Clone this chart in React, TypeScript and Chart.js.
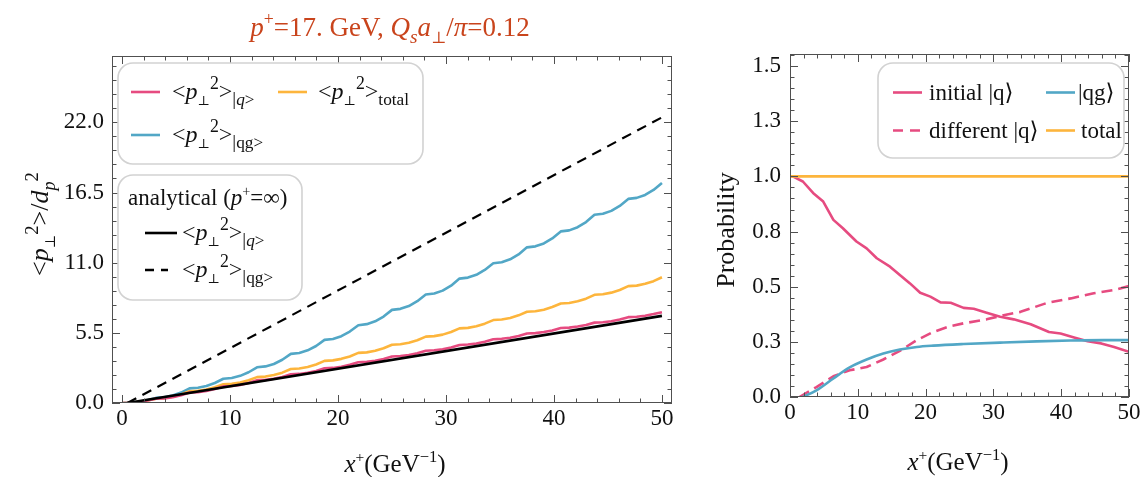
import React, { useEffect, useRef } from 'react';
import { Chart, registerables } from 'chart.js';
Chart.register(...registerables);

const SERIF = '"Liberation Serif", "DejaVu Serif", "Times New Roman", serif';
const PINK = '#E64B80';
const BLUE = '#52A7C6';
const ORANGE = '#FDB53C';
const BLACK = '#000000';
const TITLE_COLOR = '#C9441C';
const FRAME = '#505050';
const TEXT = '#111111';

// ---------------- left panel data ----------------
const xPositions = [
  0, 0.78, 1.56, 2.34, 3.13, 3.91, 4.69, 5.47, 6.25, 7.03, 7.81, 8.59, 9.38, 10.16, 10.94, 11.72,
  12.5, 13.28, 14.06, 14.84, 15.63, 16.41, 17.19, 17.97, 18.75, 19.53, 20.31, 21.09, 21.88, 22.66, 23.44, 24.22,
  25, 25.78, 26.56, 27.34, 28.13, 28.91, 29.69, 30.47, 31.25, 32.03, 32.81, 33.59, 34.38, 35.16, 35.94, 36.72,
  37.5, 38.28, 39.06, 39.84, 40.63, 41.41, 42.19, 42.97, 43.75, 44.53, 45.31, 46.09, 46.88, 47.66, 48.44, 49.22,
  50,
];
const pSqQ = [
  0, 0.02, 0.08, 0.19, 0.33, 0.36, 0.45, 0.61, 0.82, 0.85, 0.94, 1.09, 1.3, 1.33, 1.42, 1.57,
  1.78, 1.81, 1.9, 2.04, 2.25, 2.28, 2.37, 2.51, 2.72, 2.75, 2.84, 2.99, 3.2, 3.23, 3.31, 3.45,
  3.65, 3.68, 3.76, 3.9, 4.1, 4.13, 4.21, 4.35, 4.55, 4.58, 4.66, 4.8, 5.0, 5.03, 5.11, 5.25,
  5.45, 5.48, 5.56, 5.69, 5.88, 5.91, 5.99, 6.12, 6.3, 6.33, 6.41, 6.54, 6.73, 6.76, 6.84, 6.97,
  7.12,
];
const pSqTotal = [
  0, 0.02, 0.09, 0.19, 0.34, 0.38, 0.49, 0.67, 0.92, 0.95, 1.06, 1.23, 1.47, 1.51, 1.61, 1.79,
  2.03, 2.07, 2.19, 2.38, 2.66, 2.7, 2.82, 3.02, 3.3, 3.34, 3.46, 3.65, 3.93, 3.97, 4.09, 4.29,
  4.57, 4.61, 4.73, 4.92, 5.2, 5.24, 5.36, 5.57, 5.85, 5.89, 6.01, 6.22, 6.5, 6.54, 6.66, 6.87,
  7.15, 7.19, 7.31, 7.52, 7.8, 7.84, 7.97, 8.18, 8.48, 8.52, 8.65, 8.86, 9.16, 9.2, 9.34, 9.55,
  9.86,
];
const pSqQG = [
  0, 0.03, 0.1, 0.22, 0.4, 0.45, 0.59, 0.82, 1.15, 1.2, 1.34, 1.57, 1.9, 1.96, 2.13, 2.41,
  2.8, 2.87, 3.06, 3.39, 3.85, 3.92, 4.13, 4.47, 4.95, 5.02, 5.24, 5.6, 6.1, 6.18, 6.4, 6.78,
  7.3, 7.38, 7.6, 7.98, 8.5, 8.58, 8.81, 9.2, 9.75, 9.83, 10.05, 10.43, 10.95, 11.03, 11.26, 11.65,
  12.2, 12.28, 12.51, 12.9, 13.45, 13.53, 13.78, 14.18, 14.75, 14.83, 15.06, 15.45, 16.0, 16.08, 16.31, 16.7,
  17.25,
];
const analyticX = [0.5, 50];
const analyticQ = [0, 6.83];
const analyticQG = [0, 22.39];

const leftXTicks = [0, 10, 20, 30, 40, 50];
const leftXTickLabels = ['0', '10', '20', '30', '40', '50'];
const leftYTicks = [0, 5.5, 11, 16.5, 22];
const leftYTickLabels = ['0.0', '5.5', '11.0', '16.5', '22.0'];

// ---------------- right panel data ----------------
const initialQX = [0, 0.4, 1.9, 3.4, 4.9, 6.4, 7.8, 9.8, 11.3, 12.8, 14.75, 16.2, 17.7, 19.2, 20.7, 22.2, 23.7, 25.6, 27.1, 29.0, 31.0, 33.0, 35.5, 38.2, 39.9, 41.9, 43.9, 45.9, 47.8, 50];
const initialQ = [1.0, 1.0, 0.977, 0.925, 0.886, 0.803, 0.765, 0.705, 0.674, 0.629, 0.591, 0.553, 0.515, 0.473, 0.455, 0.429, 0.427, 0.404, 0.4, 0.382, 0.364, 0.352, 0.33, 0.295, 0.288, 0.27, 0.253, 0.243, 0.227, 0.205];
const differentQX = [1.4, 3.9, 6.4, 8.8, 11.3, 13.76, 16.2, 18.7, 21.15, 23.6, 25.6, 29.0, 31.5, 34.0, 37.95, 41.4, 44.8, 47.8, 50];
const differentQ = [0, 0.045, 0.094, 0.121, 0.136, 0.17, 0.209, 0.258, 0.295, 0.321, 0.334, 0.352, 0.371, 0.386, 0.427, 0.447, 0.47, 0.485, 0.503];
const qgX = [1.9, 3.9, 6.4, 8.8, 11.3, 13.76, 16.2, 18.7, 21.15, 25.6, 31.5, 36.4, 41.4, 46.3, 50];
const qgProb = [0, 0.03, 0.084, 0.134, 0.17, 0.197, 0.215, 0.227, 0.233, 0.24, 0.247, 0.252, 0.256, 0.258, 0.258];
const totalX = [0, 50];
const totalProb = [1, 1];

const rightXTicks = [0, 10, 20, 30, 40, 50];
const rightXTickLabels = ['0', '10', '20', '30', '40', '50'];
const rightYTicks = [0, 0.25, 0.5, 0.75, 1.0, 1.25, 1.5];
const rightYTickLabels = ['0.0', '0.3', '0.5', '0.8', '1.0', '1.3', '1.5'];

// ---------------- rich text helpers ----------------
type Run = { t: string; i?: boolean; sub?: boolean; sup?: boolean; s?: number };

function fontFor(r: Run, size: number) {
  const sc = r.s ?? (r.sub || r.sup ? 0.7 : 1);
  return `${r.i ? 'italic ' : ''}${(size * sc).toFixed(1)}px ${SERIF}`;
}
function richWidth(ctx: CanvasRenderingContext2D, runs: Run[], size: number) {
  let w = 0;
  for (const r of runs) {
    ctx.font = fontFor(r, size);
    w += ctx.measureText(r.t).width;
  }
  return w;
}
function drawRich(ctx: CanvasRenderingContext2D, runs: Run[], x: number, y: number, size: number, align: 'left' | 'center' = 'left', color = TEXT) {
  const w = richWidth(ctx, runs, size);
  let cx = align === 'center' ? x - w / 2 : x;
  ctx.save();
  ctx.fillStyle = color;
  ctx.textAlign = 'left';
  ctx.textBaseline = 'alphabetic';
  for (const r of runs) {
    ctx.font = fontFor(r, size);
    const dy = r.sub ? size * 0.26 : r.sup ? -size * 0.4 : 0;
    ctx.fillText(r.t, cx, y + dy);
    cx += ctx.measureText(r.t).width;
  }
  ctx.restore();
}

const pPerpSq = (): Run[] => [
  { t: '<' }, { t: 'p', i: true }, { t: '⊥', sub: true, s: 0.55 }, { t: '2', sup: true, s: 0.74 }, { t: '>' },
];
const runsQ: Run[] = [...pPerpSq(), { t: '|', sub: true, s: 0.8 }, { t: 'q', i: true, sub: true, s: 0.72 }, { t: '>', sub: true, s: 0.72 }];
const runsQG: Run[] = [...pPerpSq(), { t: '|', sub: true, s: 0.8 }, { t: 'qg', sub: true, s: 0.72 }, { t: '>', sub: true, s: 0.72 }];
const runsTotal: Run[] = [...pPerpSq(), { t: 'total', sub: true, s: 0.72 }];
const runsAnalytical: Run[] = [{ t: 'analytical (' }, { t: 'p', i: true }, { t: '+', sup: true, s: 0.62 }, { t: '=∞)' }];
const runsTitle: Run[] = [
  { t: 'p', i: true }, { t: '+', sup: true, s: 0.66 }, { t: '=17. GeV, ' }, { t: 'Q', i: true }, { t: 's', i: true, sub: true, s: 0.72 },
  { t: 'a', i: true }, { t: '⊥', sub: true, s: 0.6 }, { t: '/' }, { t: 'π', i: true }, { t: '=0.12' },
];
const runsLeftY: Run[] = [
  { t: '<' }, { t: 'p', i: true }, { t: '⊥', sub: true, s: 0.55 }, { t: '2', sup: true, s: 0.72 }, { t: '>/' },
  { t: 'd', i: true }, { t: 'p', i: true, sub: true, s: 0.7 }, { t: '2', sup: true, s: 0.72 },
];
const runsX: Run[] = [{ t: 'x', i: true }, { t: '+', sup: true, s: 0.62 }, { t: '(GeV' }, { t: '−1', sup: true, s: 0.66 }, { t: ')' }];

function legendLine(ctx: CanvasRenderingContext2D, x1: number, x2: number, y: number, color: string, dash: number[] = [], width = 2.6) {
  ctx.save();
  ctx.strokeStyle = color;
  ctx.lineWidth = width;
  ctx.setLineDash(dash);
  ctx.beginPath();
  ctx.moveTo(x1, y);
  ctx.lineTo(x2, y);
  ctx.stroke();
  ctx.restore();
}
function legendBox(ctx: CanvasRenderingContext2D, x: number, y: number, w: number, h: number) {
  ctx.save();
  ctx.beginPath();
  ctx.roundRect(x, y, w, h, 15);
  ctx.fillStyle = '#ffffff';
  ctx.fill();
  ctx.strokeStyle = '#d2d2d2';
  ctx.lineWidth = 1.6;
  ctx.stroke();
  ctx.restore();
}

function drawFrame(chart: any, xMajor: number[], xMinor: number[], yMajor: number[], yMinor: number[]) {
  const ctx: CanvasRenderingContext2D = chart.ctx;
  const a = chart.chartArea;
  const xs = chart.scales.x;
  const ys = chart.scales.y;
  ctx.save();
  ctx.strokeStyle = FRAME;
  ctx.lineWidth = 1;
  ctx.strokeRect(Math.round(a.left) + 0.5, Math.round(a.top) + 0.5, Math.round(a.right - a.left) - 1, Math.round(a.bottom - a.top) - 1);
  ctx.beginPath();
  const tx = (v: number, len: number) => {
    const p = Math.round(xs.getPixelForValue(v)) + 0.5;
    ctx.moveTo(p, a.bottom); ctx.lineTo(p, a.bottom - len);
    ctx.moveTo(p, a.top); ctx.lineTo(p, a.top + len);
  };
  const ty = (v: number, len: number) => {
    const p = Math.round(ys.getPixelForValue(v)) + 0.5;
    ctx.moveTo(a.left, p); ctx.lineTo(a.left + len, p);
    ctx.moveTo(a.right, p); ctx.lineTo(a.right - len, p);
  };
  xMajor.forEach(v => tx(v, 8));
  xMinor.forEach(v => tx(v, 4.5));
  yMajor.forEach(v => ty(v, 8));
  yMinor.forEach(v => ty(v, 4.5));
  ctx.stroke();
  ctx.restore();
}

const toPts = (xs: number[], ys: number[]) => xs.map((x, i) => ({ x, y: ys[i] }));

function axisOpts(min: number, max: number, ticks: number[], labels: string[], padding: number, fit: (s: any) => void) {
  return {
    type: 'linear' as const,
    min,
    max,
    grid: { display: false, drawTicks: false },
    border: { display: false },
    afterBuildTicks: (s: any) => { s.ticks = ticks.map(v => ({ value: v })); },
    afterFit: fit,
    ticks: {
      padding,
      autoSkip: false,
      maxRotation: 0,
      color: TEXT,
      font: { family: SERIF, size: 23 },
      callback: (_v: any, i: number) => labels[i],
    },
  };
}

function leftConfig(): any {
  const xMinor: number[] = [];
  for (let v = 2; v < 50; v += 2) if (v % 10 !== 0) xMinor.push(v);
  const yMinor: number[] = [];
  for (let k = 1; k <= 24; k++) if (k % 5 !== 0) yMinor.push(k * 1.1);
  return {
    type: 'line',
    data: {
      datasets: [
        { data: toPts(analyticX, analyticQ), borderColor: BLACK, borderWidth: 2.6 },
        { data: toPts(analyticX, analyticQG), borderColor: BLACK, borderWidth: 2.2, borderDash: [10, 7] },
        { data: toPts(xPositions, pSqQ), borderColor: PINK },
        { data: toPts(xPositions, pSqTotal), borderColor: ORANGE },
        { data: toPts(xPositions, pSqQG), borderColor: BLUE },
      ],
    },
    options: {
      responsive: false,
      animation: false,
      devicePixelRatio: 1,
      layout: { padding: { left: 0, top: 56, right: 28, bottom: 0 } },
      plugins: { legend: { display: false }, tooltip: { enabled: false }, title: { display: false } },
      elements: { point: { radius: 0 }, line: { tension: 0, borderWidth: 2.6, fill: false, borderJoinStyle: 'round' } },
      scales: {
        x: axisOpts(-0.93, 50.93, leftXTicks, leftXTickLabels, 2, (s: any) => { s.height = 74; }),
        y: axisOpts(0, 27.2, leftYTicks, leftYTickLabels, 8, (s: any) => { s.width = 112; }),
      },
    },
    plugins: [{
      id: 'leftDecor',
      afterDraw(chart: any) {
        const ctx: CanvasRenderingContext2D = chart.ctx;
        drawFrame(chart, leftXTicks, xMinor, leftYTicks, yMinor);
        drawRich(ctx, runsTitle, 390, 36, 27, 'center', TITLE_COLOR);
        drawRich(ctx, runsX, 395, 472, 25, 'center');
        ctx.save();
        ctx.translate(48, 224);
        ctx.rotate(-Math.PI / 2);
        drawRich(ctx, runsLeftY, 0, 0, 26, 'center');
        ctx.restore();
        // legend 1
        legendBox(ctx, 118, 63, 305, 101);
        legendLine(ctx, 131, 160, 92, PINK);
        drawRich(ctx, runsQ, 172, 99, 24);
        legendLine(ctx, 278, 307, 92, ORANGE);
        drawRich(ctx, runsTotal, 318, 99, 24);
        legendLine(ctx, 131, 160, 135, BLUE);
        drawRich(ctx, runsQG, 172, 142, 24);
        // legend 2
        legendBox(ctx, 118, 175, 184, 125);
        drawRich(ctx, runsAnalytical, 128, 205, 23);
        legendLine(ctx, 145, 177, 233, BLACK);
        drawRich(ctx, runsQ, 182, 240, 24);
        legendLine(ctx, 145, 168, 270, BLACK, [9, 7], 2.4);
        drawRich(ctx, runsQG, 182, 277, 24);
      },
    }],
  };
}

function rightConfig(): any {
  const xMinor: number[] = [];
  for (let v = 2; v < 50; v += 2) if (v % 10 !== 0) xMinor.push(v);
  const yMinor: number[] = [];
  for (let k = 1; k <= 31; k++) if (k % 5 !== 0) yMinor.push(k * 0.05);
  return {
    type: 'line',
    data: {
      datasets: [
        { data: toPts(totalX, totalProb), borderColor: ORANGE },
        { data: toPts(qgX, qgProb), borderColor: BLUE, cubicInterpolationMode: 'monotone' },
        { data: toPts(initialQX, initialQ), borderColor: PINK },
        { data: toPts(differentQX, differentQ), borderColor: PINK, borderDash: [11, 6] },
      ],
    },
    options: {
      responsive: false,
      animation: false,
      devicePixelRatio: 1,
      layout: { padding: { left: 0, top: 54, right: 18, bottom: 0 } },
      plugins: { legend: { display: false }, tooltip: { enabled: false }, title: { display: false } },
      elements: { point: { radius: 0 }, line: { tension: 0, borderWidth: 2.6, fill: false, borderJoinStyle: 'round' } },
      scales: {
        x: axisOpts(0, 50, rightXTicks, rightXTickLabels, 2, (s: any) => { s.height = 80; }),
        y: axisOpts(0, 1.555, rightYTicks, rightYTickLabels, 9, (s: any) => { s.width = 90; }),
      },
    },
    plugins: [{
      id: 'rightDecor',
      afterDraw(chart: any) {
        const ctx: CanvasRenderingContext2D = chart.ctx;
        drawFrame(chart, rightXTicks, xMinor, rightYTicks, yMinor);
        drawRich(ctx, runsX, 258, 470, 25, 'center');
        ctx.save();
        ctx.translate(34, 230);
        ctx.rotate(-Math.PI / 2);
        drawRich(ctx, [{ t: 'Probability' }], 0, 0, 26, 'center');
        ctx.restore();
        legendBox(ctx, 178, 63, 246, 95);
        legendLine(ctx, 193, 222, 92.5, PINK);
        drawRich(ctx, [{ t: 'initial |q⟩' }], 229, 100, 23);
        legendLine(ctx, 346, 375, 92.5, BLUE);
        drawRich(ctx, [{ t: '|qg⟩' }], 378, 100, 23);
        legendLine(ctx, 193, 222, 130.5, PINK, [10, 7]);
        drawRich(ctx, [{ t: 'different |q⟩' }], 229, 138, 23);
        legendLine(ctx, 346, 375, 130.5, ORANGE);
        drawRich(ctx, [{ t: 'total' }], 381, 138, 23);
      },
    }],
  };
}

function ChartCanvas({ width, height, left, makeConfig }: { width: number; height: number; left: number; makeConfig: () => any }) {
  const ref = useRef<HTMLCanvasElement>(null);
  useEffect(() => {
    const chart = new Chart(ref.current as HTMLCanvasElement, makeConfig());
    return () => chart.destroy();
  }, [makeConfig]);
  return (
    <canvas
      ref={ref}
      width={width}
      height={height}
      style={{ position: 'absolute', left, top: 0, width, height, display: 'block' }}
    />
  );
}

export default function App() {
  return (
    <div style={{ position: 'fixed', left: 0, top: 0, width: 1147, height: 477, background: '#ffffff', overflow: 'hidden' }}>
      <ChartCanvas width={700} height={477} left={0} makeConfig={leftConfig} />
      <ChartCanvas width={447} height={477} left={700} makeConfig={rightConfig} />
    </div>
  );
}
